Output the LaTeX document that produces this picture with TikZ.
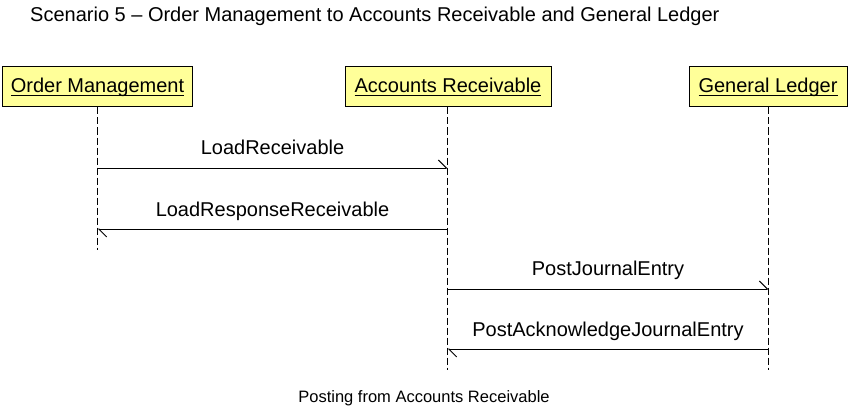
\documentclass[tikz,border=0pt]{standalone}
\usepackage{fontspec}
\setmainfont{Liberation Sans}
\usetikzlibrary{arrows.meta}
\definecolor{boxfill}{HTML}{FFFF99}
\newcommand{\actortext}[1]{\setbox0\hbox{#1}\rlap{\rule[-3pt]{\wd0}{1pt}}\box0}
\begin{document}
\begin{tikzpicture}[x=1pt,y=-1pt,
  actor/.style={draw=black, line width=1pt, fill=boxfill, minimum height=40pt, inner sep=0pt,
    text height=16pt, text depth=4pt, font=\fontsize{20}{24}\selectfont},
  lifeline/.style={draw=black, line width=1pt, dash pattern=on 7pt off 3pt},
  msg/.style={draw=black, line width=1pt, -{Straight Barb[harpoon,length=8pt,width=16pt,line width=1pt]}},
  lbl/.style={anchor=base, inner sep=0pt, font=\fontsize{20}{24}\selectfont}]
\useasboundingbox (0,0) rectangle (848,409);
\node[anchor=base west, inner sep=0pt, font=\fontsize{20}{24}\selectfont] (title) at (30,22)
  {Scenario 5 – Order Management to Accounts Receivable and General Ledger};
\node[actor, minimum width=190pt] (om) at (97.5,87) {\actortext{Order Management}};
\node[actor, minimum width=206pt] (ar) at (448,87) {\actortext{Accounts Receivable}};
\node[actor, minimum width=158pt] (gl) at (768,87) {\actortext{General Ledger}};
\coordinate (omEnd) at (97.5,250);
\coordinate (arEnd) at (447.5,370);
\coordinate (glEnd) at (768.5,370);
\draw[lifeline] (om.south) -- (omEnd);
\draw[lifeline] (ar.south -| arEnd) -- (arEnd);
\draw[lifeline] (gl.south -| glEnd) -- (glEnd);
\coordinate (om1) at (97.5,168);
\coordinate (ar1) at (447.5,168);
\coordinate (om2) at (97.5,229);
\coordinate (ar2) at (447.5,229);
\coordinate (ar3) at (447.5,289);
\coordinate (gl3) at (768.5,289);
\coordinate (ar4) at (447.5,349);
\coordinate (gl4) at (768.5,349);
\draw[msg] (om1) -- (ar1);
\draw[msg] (ar2) -- (om2);
\draw[msg] (ar3) -- (gl3);
\draw[msg] (gl4) -- (ar4);
\node[lbl] (l1) at (272.5,154) {LoadReceivable};
\node[lbl] (l2) at (272.5,216) {LoadResponseReceivable};
\node[lbl] (l3) at (608,275) {PostJournalEntry};
\node[lbl] (l4) at (608,336) {PostAcknowledgeJournalEntry};
\node[anchor=base, inner sep=0pt, font=\fontsize{16.5}{20}\selectfont] (cap) at (424,402)
  {Posting from Accounts Receivable};
\end{tikzpicture}
\end{document}
